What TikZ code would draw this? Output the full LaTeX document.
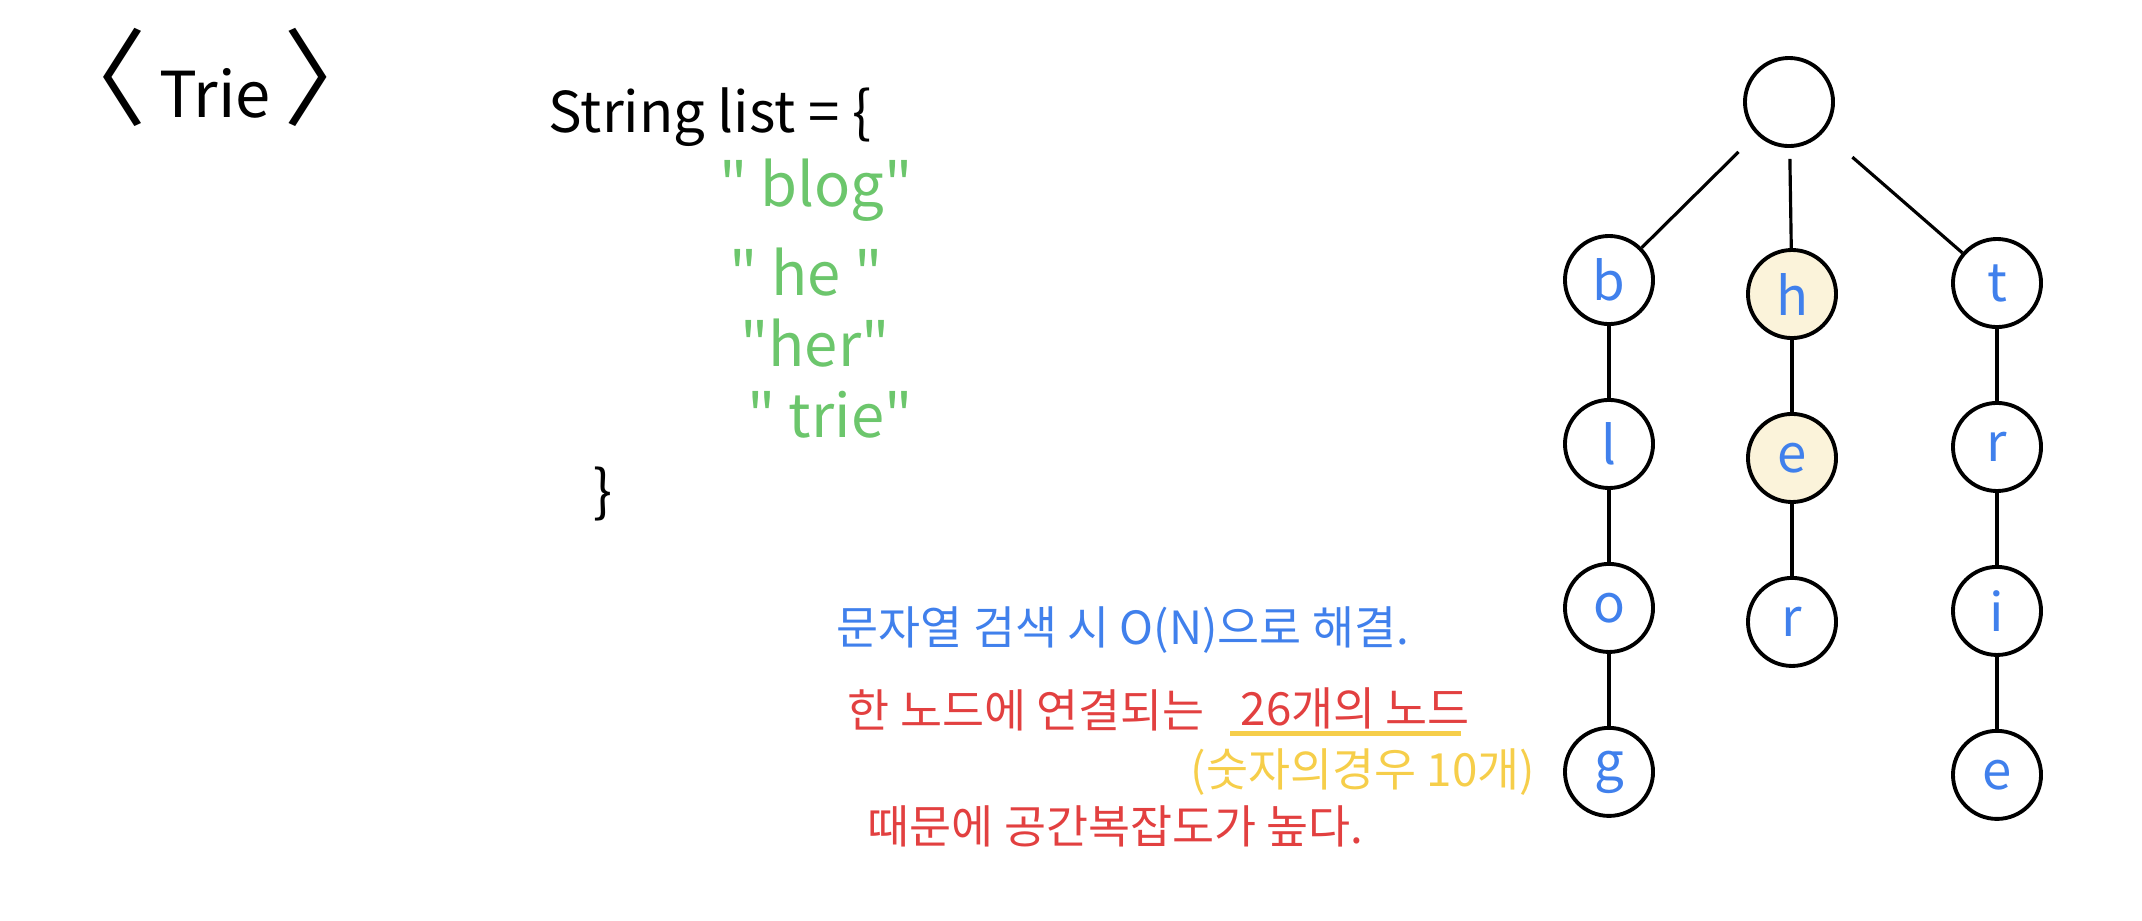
\documentclass[tikz,border=0pt]{standalone}
\usepackage{fontspec}
\setmainfont{Noto Sans CJK KR}
\newfontfamily\plainfont{Noto Sans CJK KR}
\usepackage{xcolor}
\usepackage{tikz}
\usetikzlibrary{positioning}
\definecolor{penblue}{RGB}{64,128,236}
\definecolor{pengreen}{RGB}{108,198,108}
\definecolor{penred}{RGB}{226,64,64}
\definecolor{penyellow}{RGB}{246,206,74}
\definecolor{hlfill}{RGB}{251,243,218}

\begin{document}
\begin{tikzpicture}[
      x=0.01cm, y=-0.01cm,
      node distance=0.72cm,
      tnode/.style={draw, circle, line width=1.1pt, minimum size=0.88cm,
                    inner sep=0pt, text=penblue,
                    font=\fontsize{15}{15}\selectfont},
      hl/.style={fill=hlfill},
      edge/.style={line width=0.9pt},
      word/.style={text=pengreen, font=\plainfont\fontsize{17}{17}\selectfont},
      note/.style={font=\fontsize{13}{13}\selectfont, inner sep=0pt},
    ]
    \useasboundingbox (0,0) rectangle (2142,920);

    % ── title ──
    \node[font=\fontsize{18}{18}\selectfont] (title) at (215,77)
      {{\fontsize{30}{30}\selectfont 〈}\hspace{0.2em}Trie\hspace{0.2em}{\fontsize{30}{30}\selectfont 〉}};

    % ── string list ──
    \node[font=\fontsize{16}{16}\selectfont] (decl) at (710,117) {String list = \{};
    \node[word] (w1) at (816,190) {" blog"};
    \node[word] (w2) at (806,272) {" he "};
    \node[word] (w3) at (815,343) {"her"};
    \node[word] (w4) at (830,415) {" trie"};
    \node[font=\fontsize{16}{16}\selectfont] (close) at (603,494) {\}};

    % ── notes ──
    \node[note, text=penblue, anchor=west] (n1) at (836,630)
      {문자열 검색 시 O(N)으로 해결.};
    \node[note, text=penred, anchor=west] (n2) at (847,710)
      {한 노드에 연결되는};
    \node[note, text=penred, anchor=west] (n2b) at (1240,708)
      {26개의 노드};
    \draw[penyellow, line width=1.2pt] ([xshift=-0.1cm, yshift=-0.04cm]n2b.south west)
      -- ([xshift=-0.1cm, yshift=-0.04cm]n2b.south east);
    \node[note, text=penyellow] (n3) at (1363,772) {(숫자의경우 10개)};
    \node[note, text=penred, anchor=west] (n4) at (867,826)
      {때문에 공간복잡도가 높다.};

    % ── trie ──
    \node[tnode] (root) at (1789,102) {};

    \node[tnode] (b) at (1609,280) {b};
    \node[tnode, below=of b] (l) {l};
    \node[tnode, below=of l] (o) {o};
    \node[tnode, below=of o] (g) {g};

    \node[tnode, hl] (h) at (1792,294) {h};
    \node[tnode, hl, below=of h] (e) {e};
    \node[tnode, below=of e] (r) {r};

    \node[tnode] (t) at (1997,283) {t};
    \node[tnode, below=of t] (tr) {r};
    \node[tnode, below=of tr] (ti) {i};
    \node[tnode, below=of ti] (te) {e};

    % ── edges ──
    \draw[edge, shorten <=0.25cm] (root) -- (b);
    \draw[edge, shorten <=0.11cm] (root) -- (h);
    \draw[edge, shorten <=0.38cm] (root) -- (t);
    \draw[edge] (b) -- (l);
    \draw[edge] (l) -- (o);
    \draw[edge] (o) -- (g);
    \draw[edge] (h) -- (e);
    \draw[edge] (e) -- (r);
    \draw[edge] (t) -- (tr);
    \draw[edge] (tr) -- (ti);
    \draw[edge] (ti) -- (te);
  \end{tikzpicture}
\end{document}
